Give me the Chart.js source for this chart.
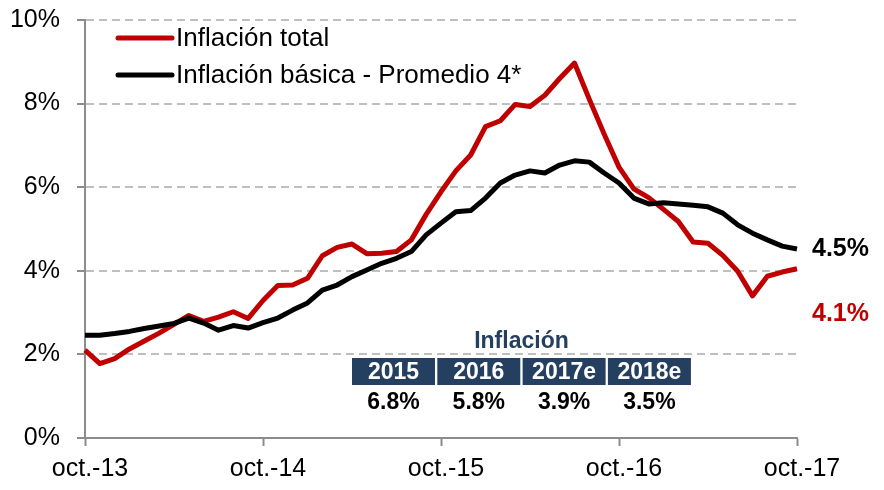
<!DOCTYPE html>
<html lang="es">
<head>
    <meta charset="UTF-8">
    <title>Inflación total y básica</title>
    <script src="https://cdn.jsdelivr.net/npm/chart.js"></script>
    <style>
        html, body { margin: 0; padding: 0; background: #ffffff; }
        #wrap { width: 884px; height: 490px; }
    </style>
</head>
<body>
<div id="wrap"><canvas id="inflChart" width="884" height="490"></canvas></div>

<script>
    // meses, oct-13 a oct-17
    const months = [
        'oct.-13', 'nov.-13', 'dic.-13',
        'ene.-14', 'feb.-14', 'mar.-14', 'abr.-14', 'may.-14', 'jun.-14', 'jul.-14', 'ago.-14', 'sep.-14', 'oct.-14', 'nov.-14', 'dic.-14',
        'ene.-15', 'feb.-15', 'mar.-15', 'abr.-15', 'may.-15', 'jun.-15', 'jul.-15', 'ago.-15', 'sep.-15', 'oct.-15', 'nov.-15', 'dic.-15',
        'ene.-16', 'feb.-16', 'mar.-16', 'abr.-16', 'may.-16', 'jun.-16', 'jul.-16', 'ago.-16', 'sep.-16', 'oct.-16', 'nov.-16', 'dic.-16',
        'ene.-17', 'feb.-17', 'mar.-17', 'abr.-17', 'may.-17', 'jun.-17', 'jul.-17', 'ago.-17', 'sep.-17', 'oct.-17'
    ];

    const inflTotal = [
        2.10, 1.78, 1.90,
        2.13, 2.32, 2.51, 2.72, 2.93, 2.79, 2.89, 3.02, 2.86, 3.29, 3.65, 3.66,
        3.82, 4.36, 4.56, 4.64, 4.41, 4.42, 4.46, 4.74, 5.35, 5.89, 6.39, 6.77,
        7.45, 7.59, 7.98, 7.93, 8.20, 8.60, 8.97, 8.10, 7.27, 6.48, 5.96, 5.75,
        5.47, 5.18, 4.69, 4.66, 4.37, 3.99, 3.40, 3.87, 3.97, 4.05
    ];

    const inflBasica = [
        2.46, 2.46, 2.50,
        2.55, 2.62, 2.68, 2.74, 2.87, 2.75, 2.58, 2.69, 2.63, 2.76, 2.87, 3.06,
        3.23, 3.54, 3.66, 3.86, 4.02, 4.18, 4.30, 4.46, 4.86, 5.14, 5.41, 5.44,
        5.74, 6.10, 6.29, 6.39, 6.34, 6.53, 6.63, 6.60, 6.34, 6.10, 5.74, 5.60,
        5.63, 5.60, 5.57, 5.53, 5.38, 5.10, 4.90, 4.74, 4.59, 4.52
    ];

    const endLabels = ['4.1%', '4.5%'];

    // recuadro de pronósticos
    const tableTitle = 'Inflación';
    const tableYears = ['2015', '2016', '2017e', '2018e'];
    const tableValues = ['6.8%', '5.8%', '3.9%', '3.5%'];

    const RED = '#C00000';
    const NAVY = '#243F60';
    const FONT = '"Liberation Sans", Arial, sans-serif';

    const extras = {
        id: 'extras',
        afterDatasetsDraw(chart) {
            const ctx = chart.ctx;
            const area = chart.chartArea;
            ctx.save();

            // leyenda
            chart.data.datasets.forEach((ds, i) => {
                const y = area.top + 18 + i * 37;
                ctx.beginPath();
                ctx.strokeStyle = ds.borderColor;
                ctx.lineWidth = 5;
                ctx.lineCap = 'round';
                ctx.moveTo(area.left + 33, y);
                ctx.lineTo(area.left + 87, y);
                ctx.stroke();
                ctx.fillStyle = '#000000';
                ctx.font = '26px ' + FONT;
                ctx.textAlign = 'left';
                ctx.textBaseline = 'middle';
                ctx.fillText(ds.label, area.left + 91, y + 1);
            });

            // etiquetas finales
            chart.data.datasets.forEach((ds, i) => {
                const meta = chart.getDatasetMeta(i);
                const pt = meta.data[meta.data.length - 1];
                ctx.fillStyle = ds.borderColor;
                ctx.font = 'bold 25px ' + FONT;
                ctx.textAlign = 'left';
                ctx.textBaseline = 'middle';
                const dy = i === 0 ? 45 : 0;
                ctx.fillText(endLabels[i], pt.x + 15, pt.y + dy);
            });

            // tabla de inflación
            const boxW = 83, boxH = 27, step = 85.3;
            const x0 = area.left + 267;
            const yBox = area.top + 338;
            ctx.textAlign = 'center';
            ctx.textBaseline = 'middle';
            ctx.fillStyle = NAVY;
            ctx.font = 'bold 23px ' + FONT;
            ctx.fillText(tableTitle, x0 + (step * 3 + boxW) / 2, yBox - 16);
            tableYears.forEach((yr, i) => {
                const bx = x0 + i * step;
                ctx.fillStyle = NAVY;
                ctx.fillRect(bx, yBox, boxW, boxH);
                ctx.fillStyle = '#ffffff';
                ctx.fillText(yr, bx + boxW / 2, yBox + boxH / 2 + 1);
                ctx.fillStyle = '#000000';
                ctx.fillText(tableValues[i], bx + boxW / 2, yBox + 45);
            });

            ctx.restore();
        }
    };

    const ctx = document.getElementById('inflChart').getContext('2d');
    const inflChart = new Chart(ctx, {
        type: 'line',
        data: {
            labels: months,
            datasets: [{
                label: 'Inflación total',
                data: inflTotal,
                borderColor: RED,
                borderWidth: 5,
                pointRadius: 0,
                tension: 0,
                borderJoinStyle: 'round',
                order: 1
            }, {
                label: 'Inflación básica - Promedio 4*',
                data: inflBasica,
                borderColor: '#000000',
                borderWidth: 5,
                pointRadius: 0,
                tension: 0,
                borderJoinStyle: 'round',
                order: 0
            }]
        },
        options: {
            responsive: false,
            animation: false,
            layout: { padding: { top: 20, right: 87, left: 0, bottom: 0 } },
            plugins: {
                legend: { display: false },
                tooltip: { enabled: false }
            },
            scales: {
                x: {
                    offset: false,
                    afterFit: (s) => { s.height = 52; },
                    border: { display: true, color: '#8C8C8C', width: 2 },
                    grid: {
                        drawOnChartArea: false,
                        drawTicks: true,
                        tickLength: 8,
                        tickColor: '#8C8C8C',
                        tickWidth: 2
                    },
                    ticks: {
                        autoSkip: false,
                        maxRotation: 0,
                        padding: 8,
                        labelOffset: 5,
                        color: '#000000',
                        font: { family: FONT, size: 25 },
                        callback: function (val, i) {
                            return i % 12 === 0 ? this.getLabelForValue(val) : null;
                        }
                    }
                },
                y: {
                    min: 0,
                    max: 10,
                    afterFit: (s) => {
                        s.width = 85;
                        s.paddingTop = 0;
                        s.paddingBottom = 0;
                    },
                    border: { display: true, color: '#8C8C8C', width: 2, dash: [8, 5] },
                    grid: {
                        color: (c) => c.tick && c.tick.value === 0 ? 'rgba(0,0,0,0)' : '#BFBFBF',
                        lineWidth: 2,
                        drawTicks: true,
                        tickLength: 8,
                        tickColor: '#8C8C8C',
                        tickWidth: 2,
                        tickBorderDash: []
                    },
                    ticks: {
                        stepSize: 2,
                        padding: 17,
                        color: '#000000',
                        font: { family: FONT, size: 25 },
                        callback: (v) => v + '%'
                    }
                }
            }
        },
        plugins: [extras]
    });
</script>
</body>
</html>
